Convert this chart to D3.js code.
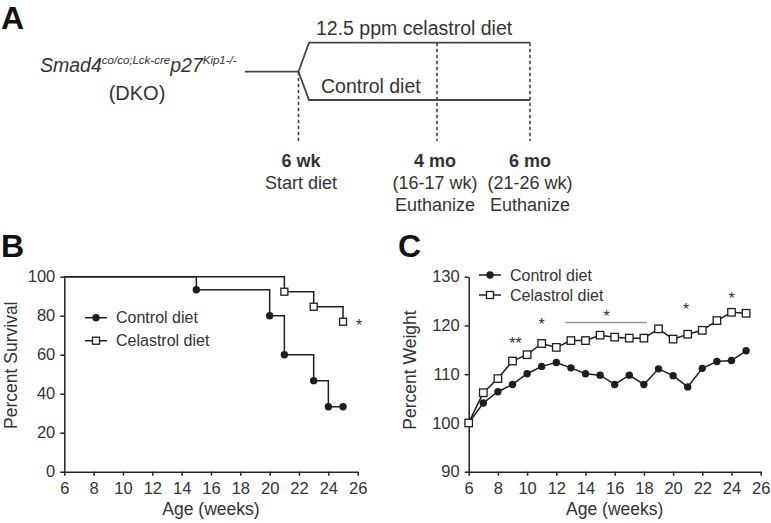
<!DOCTYPE html>
<html><head><meta charset="utf-8">
<script src="https://cdn.jsdelivr.net/npm/d3@7"></script>
<style>
body{margin:0;background:#fff}
svg text{font-family:"Liberation Sans",Arial,sans-serif;fill:#333}
</style>
</head><body>
<svg id="fig" width="771" height="523"></svg>
<script>
// ---------- DATA ----------
const seriesNames = ["Control diet", "Celastrol diet"];
// Panel B: Kaplan–Meier survival
const survWeeksControl = [6, 15, 20, 21, 23, 24, 25];
const survPctControl   = [100, 93.3, 80, 60, 46.7, 33.3, 33.3];
const survWeeksCelastrol = [6, 21, 23, 25];
const survPctCelastrol   = [100, 92.3, 84.6, 76.9];
const survStar = {week: 26.1, pct: 76.8, label: "*"};
// Panel C: percent weight
const weightWeeks = [6,7,8,9,10,11,12,13,14,15,16,17,18,19,20,21,22,23,24,25];
const weightControl   = [100,104.1,106.4,107.9,110.1,111.6,112.4,111.3,110.1,109.8,107.9,109.8,107.9,111.1,109.7,107.4,111.2,112.6,112.8,114.8];
const weightCelastrol = [100,106.2,109.1,112.7,114.0,116.3,115.5,116.9,116.9,118.0,117.6,117.4,117.4,119.3,117.2,118.2,119.0,121.0,122.7,122.5];
const weightStarWeeks  = [9.2, 11.0, 15.45, 20.9, 24.0];
const weightStarPct    = [117.0, 121.0, 122.6, 124.0, 126.3];
const weightStarLabels = ["**", "*", "*", "*", "*"];
const sigBarWeeks = [12.6, 18.2];
const sigBarPct = 120.6;
// Ticks
const xTicks = [6,8,10,12,14,16,18,20,22,24,26];
const survTicks = [0,20,40,60,80,100];
const weightTicks = [90,100,110,120,130];
// Panel A texts
const timepointTitles = ["6 wk", "4 mo", "6 mo"];
const timepointSub1 = ["Start diet", "(16-17 wk)", "(21-26 wk)"];
const timepointSub2 = ["", "Euthanize", "Euthanize"];

// ---------- DRAW ----------
const svg = d3.select("#fig");
const ink = "#222";
const lineInk = "#1e1e1e";

// panel letters
[["A", 1, 29], ["B", 1, 257], ["C", 398, 257]].forEach(([t, x, y]) => {
  svg.append("text").attr("x", x).attr("y", y).text(t)
    .style("font-size", "32px").style("font-weight", "bold").style("fill", "#111");
});

// ---------- Panel A ----------
(function () {
  const g = svg.append("g");
  const aInk = "#444";
  const split = {x: 298.5, y: 71.7};
  const xStart = 245, xBranch = 309, xEnd = 530, x4mo = 437;
  const yTop = 42.7, yBot = 100, yDashEnd = 141;
  const path = d3.path();
  path.moveTo(xStart, split.y); path.lineTo(split.x, split.y);
  path.lineTo(xBranch, yTop); path.lineTo(xEnd, yTop);
  path.moveTo(split.x, split.y); path.lineTo(xBranch, yBot); path.lineTo(xEnd, yBot);
  g.append("path").attr("d", path.toString()).attr("fill", "none")
    .attr("stroke", aInk).attr("stroke-width", 1.8);
  [[split.x, split.y], [x4mo, yTop], [xEnd, yTop]].forEach(([x, y0]) => {
    g.append("line").attr("x1", x).attr("x2", x).attr("y1", y0).attr("y2", yDashEnd)
      .attr("stroke", aInk).attr("stroke-width", 1.6).attr("stroke-dasharray", "3.5,2.5");
  });
  g.append("text").attr("x", 316).attr("y", 35).text("12.5 ppm celastrol diet").style("font-size", "19.5px");
  g.append("text").attr("x", 321).attr("y", 93).text("Control diet").style("font-size", "19.5px");

  const t = g.append("text").attr("x", 40).attr("y", 71.5).style("font-size", "19.5px").style("font-style", "italic");
  t.append("tspan").text("Smad4");
  t.append("tspan").attr("dy", -8).style("font-size", "11.5px").text("co/co;Lck-cre");
  t.append("tspan").attr("dy", 8).text("p27");
  t.append("tspan").attr("dy", -8).style("font-size", "11.5px").text("Kip1-/-");
  g.append("text").attr("x", 137).attr("y", 100).attr("text-anchor", "middle").style("font-size", "20px").text("(DKO)");

  const xs = [301, 435, 530];
  xs.forEach((x, i) => {
    g.append("text").attr("x", x).attr("y", 167).attr("text-anchor", "middle")
      .style("font-size", "18px").style("font-weight", "bold").text(timepointTitles[i]);
    g.append("text").attr("x", x).attr("y", 189).attr("text-anchor", "middle")
      .style("font-size", "18px").text(timepointSub1[i]);
    if (timepointSub2[i]) g.append("text").attr("x", x).attr("y", 211).attr("text-anchor", "middle")
      .style("font-size", "18px").text(timepointSub2[i]);
  });
})();

function styleAxis(sel) {
  sel.select(".domain").attr("stroke", ink).attr("stroke-width", 1.5);
  sel.selectAll(".tick line").attr("stroke", ink).attr("stroke-width", 1.5);
  sel.selectAll(".tick text").style("font-size", "16.5px").style("fill", "#333")
    .style("font-family", '"Liberation Sans",Arial,sans-serif');
}

function circles(g, data, r) {
  g.selectAll(null).data(data).enter().append("circle")
    .attr("cx", d => d[0]).attr("cy", d => d[1]).attr("r", r).attr("fill", lineInk);
}
function squares(g, data, s) {
  g.selectAll(null).data(data).enter().append("rect")
    .attr("x", d => d[0] - s / 2).attr("y", d => d[1] - s / 2).attr("width", s).attr("height", s)
    .attr("fill", "#fff").attr("stroke", lineInk).attr("stroke-width", 1.3);
}

function legend(g, x, y, rowH) {
  [0, 1].forEach(i => {
    const yy = y + i * rowH;
    g.append("line").attr("x1", x - 11).attr("x2", x + 11).attr("y1", yy).attr("y2", yy)
      .attr("stroke", lineInk).attr("stroke-width", 1.5);
    if (i === 0) circles(g, [[x, yy]], 3.7); else squares(g, [[x, yy]], 7);
    g.append("text").attr("x", x + 20).attr("y", yy).attr("dy", "0.36em")
      .style("font-size", "16px").text(seriesNames[i]);
  });
}

// ---------- Panel B ----------
(function () {
  const g = svg.append("g");
  const x = d3.scaleLinear().domain([6, 26]).range([64.3, 357.7]);
  const y = d3.scaleLinear().domain([0, 100]).range([471.7, 276.7]);
  const line = d3.line().x(d => x(d[0])).y(d => y(d[1])).curve(d3.curveStepAfter);
  const ctrl = survWeeksControl.map((w, i) => [w, survPctControl[i]]);
  const cel = survWeeksCelastrol.map((w, i) => [w, survPctCelastrol[i]]);
  g.append("path").attr("d", line(cel)).attr("fill", "none").attr("stroke", lineInk).attr("stroke-width", 1.5);
  g.append("path").attr("d", line(ctrl)).attr("fill", "none").attr("stroke", lineInk).attr("stroke-width", 1.5);

  const ax = g.append("g").attr("transform", `translate(0,${y(0)})`)
    .call(d3.axisBottom(x).tickValues(xTicks).tickSize(4).tickSizeOuter(0).tickPadding(7));
  styleAxis(ax);
  const ay = g.append("g").attr("transform", `translate(${x(6)},0)`)
    .call(d3.axisLeft(y).tickValues(survTicks).tickSize(4).tickSizeOuter(0).tickPadding(5));
  styleAxis(ay);

  circles(g, ctrl.slice(1).map(d => [x(d[0]), y(d[1])]), 3.7);
  squares(g, cel.slice(1).map(d => [x(d[0]), y(d[1])]), 7);

  g.append("text").attr("x", x(survStar.week)).attr("y", y(survStar.pct)).attr("dy", "0.58em")
    .attr("text-anchor", "middle").style("font-size", "16px").text(survStar.label);

  legend(g, 96, 317.7, 23);

  g.append("text").attr("x", (x(6) + x(26)) / 2).attr("y", 515).attr("text-anchor", "middle")
    .style("font-size", "17.5px").text("Age (weeks)");
  g.append("text").attr("transform", `translate(16.5,${(y(0) + y(100)) / 2 - 9}) rotate(-90)`)
    .attr("text-anchor", "middle").style("font-size", "17.5px").text("Percent Survival");
})();

// ---------- Panel C ----------
(function () {
  const g = svg.append("g");
  const x = d3.scaleLinear().domain([6, 26]).range([468.7, 760.7]);
  const y = d3.scaleLinear().domain([90, 130]).range([471.7, 276.7]);
  const line = d3.line().x(d => x(d[0])).y(d => y(d[1]));
  const ctrl = weightWeeks.map((w, i) => [w, weightControl[i]]);
  const cel = weightWeeks.map((w, i) => [w, weightCelastrol[i]]);

  const ax = g.append("g").attr("transform", `translate(0,${y(90)})`)
    .call(d3.axisBottom(x).tickValues(xTicks).tickSize(4).tickSizeOuter(0).tickPadding(7));
  styleAxis(ax);
  const ay = g.append("g").attr("transform", `translate(${x(6)},0)`)
    .call(d3.axisLeft(y).tickValues(weightTicks).tickSize(4).tickSizeOuter(0).tickPadding(5));
  styleAxis(ay);

  g.append("path").attr("d", line(ctrl)).attr("fill", "none").attr("stroke", lineInk).attr("stroke-width", 1.5);
  g.append("path").attr("d", line(cel)).attr("fill", "none").attr("stroke", lineInk).attr("stroke-width", 1.5);
  circles(g, ctrl.map(d => [x(d[0]), y(d[1])]), 3.7);
  squares(g, cel.map(d => [x(d[0]), y(d[1])]), 7.5);

  g.append("line").attr("x1", x(sigBarWeeks[0])).attr("x2", x(sigBarWeeks[1]))
    .attr("y1", y(sigBarPct)).attr("y2", y(sigBarPct)).attr("stroke", "#999").attr("stroke-width", 1.5);
  weightStarWeeks.forEach((w, i) => {
    g.append("text").attr("x", x(w)).attr("y", y(weightStarPct[i])).attr("dy", "0.58em")
      .attr("text-anchor", "middle").style("font-size", "16px").text(weightStarLabels[i]);
  });

  legend(g, 490, 275, 20);

  g.append("text").attr("x", (x(6) + x(26)) / 2).attr("y", 515).attr("text-anchor", "middle")
    .style("font-size", "17.5px").text("Age (weeks)");
  g.append("text").attr("transform", `translate(416,370) rotate(-90)`)
    .attr("text-anchor", "middle").style("font-size", "17.5px").text("Percent Weight");
})();
</script>
</body></html>
